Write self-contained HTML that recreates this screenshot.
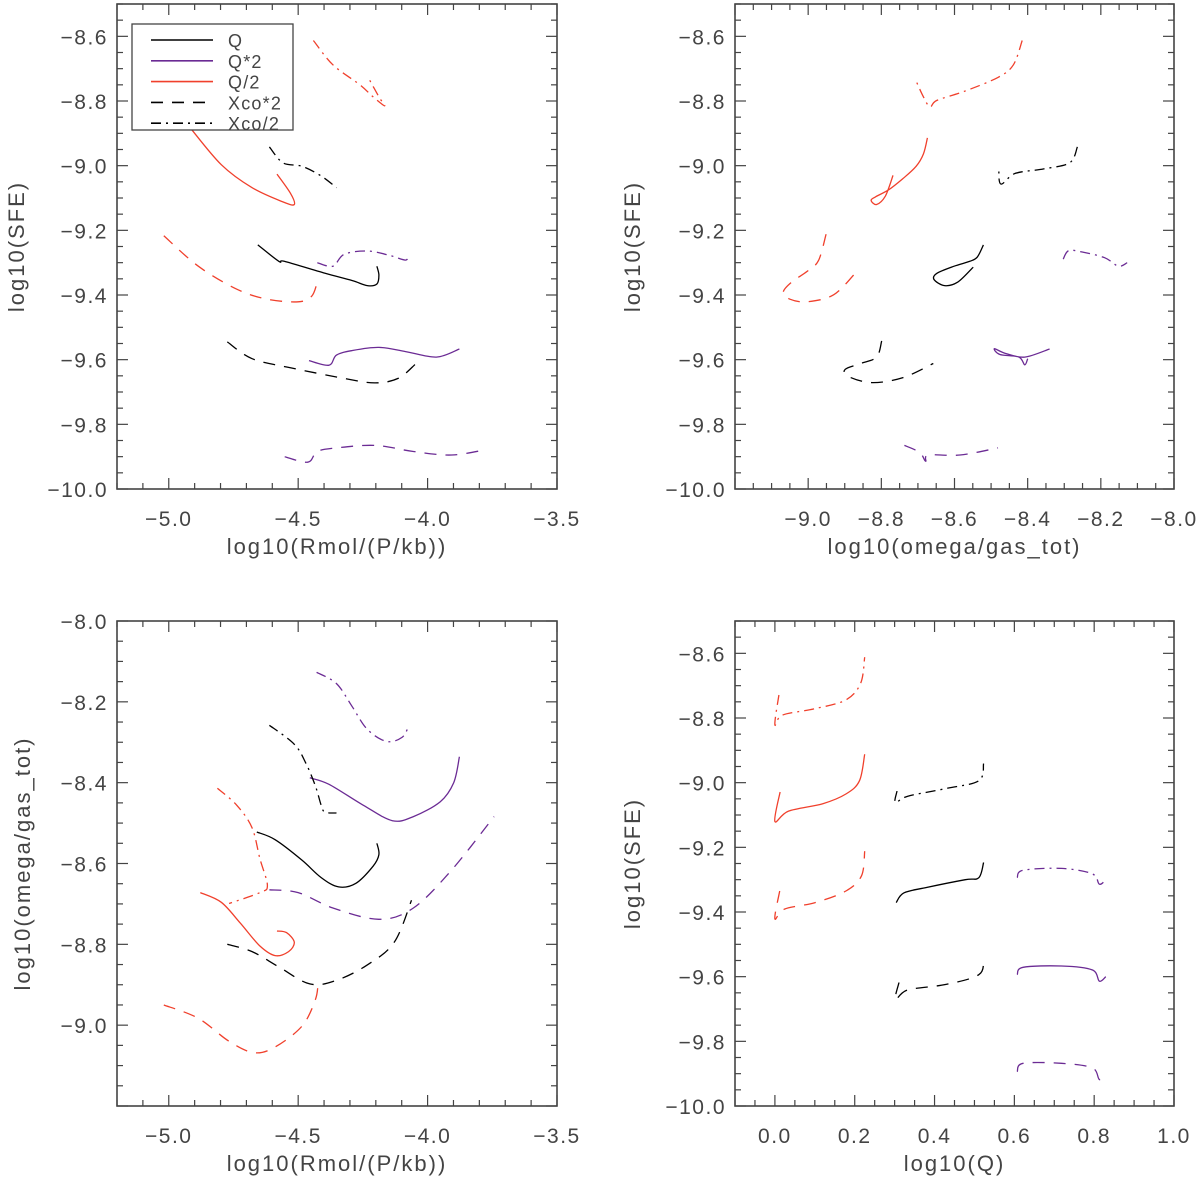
<!DOCTYPE html>
<html><head><meta charset="utf-8"><style>
html,body{margin:0;padding:0;background:#fff;}
svg{display:block;font-family:"Liberation Sans",sans-serif;}
</style></head><body>
<svg id="fig" width="1200" height="1177" viewBox="0 0 1200 1177" xmlns="http://www.w3.org/2000/svg"></svg>
<script>
// ---------- Panel A: log10(SFE) vs log10(Rmol/(P/kb)) ----------
const aQ_x=[-4.656,-4.574,-4.552,-4.396,-4.292,-4.233,-4.196,-4.188,-4.196];
const aQ_y=[-9.245,-9.296,-9.296,-9.333,-9.355,-9.371,-9.366,-9.338,-9.311];
const aQ2_x=[-4.458,-4.381,-4.352,-4.292,-4.188,-4.085,-3.966,-3.877];
const aQ2_y=[-9.603,-9.617,-9.586,-9.572,-9.562,-9.575,-9.592,-9.567];
const aQh_x=[-4.920,-4.797,-4.678,-4.559,-4.515,-4.530,-4.582];
const aQh_y=[-8.880,-8.997,-9.068,-9.112,-9.120,-9.085,-9.026];
const aX2_x=[-4.774,-4.678,-4.530,-4.322,-4.203,-4.114,-4.047];
const aX2_y=[-9.545,-9.597,-9.625,-9.658,-9.672,-9.658,-9.614];
const aQ2X2_x=[-4.552,-4.463,-4.426,-4.352,-4.203,-4.055,-3.907,-3.773];
const aQ2X2_y=[-9.900,-9.917,-9.884,-9.873,-9.865,-9.884,-9.895,-9.878];
const aQhX2_x=[-5.019,-4.886,-4.737,-4.619,-4.500,-4.448,-4.426];
const aQhX2_y=[-9.217,-9.311,-9.382,-9.413,-9.421,-9.404,-9.360];
const aXh_x=[-4.611,-4.559,-4.485,-4.411,-4.352];
const aXh_y=[-8.942,-8.991,-9.002,-9.032,-9.068];
const aQhXh_x=[-4.441,-4.366,-4.263,-4.211,-4.166,-4.188,-4.226];
const aQhXh_y=[-8.613,-8.688,-8.749,-8.787,-8.815,-8.787,-8.732];
const aQ2Xh_x=[-4.426,-4.366,-4.322,-4.233,-4.144,-4.085,-4.073];
const aQ2Xh_y=[-9.300,-9.311,-9.274,-9.264,-9.278,-9.292,-9.274];
// ---------- Panel B: log10(SFE) vs log10(omega/gas_tot) ----------
const bQ_x=[-8.521,-8.538,-8.559,-8.601,-8.648,-8.656,-8.627,-8.591,-8.549];
const bQ_y=[-9.245,-9.283,-9.296,-9.311,-9.333,-9.352,-9.371,-9.360,-9.314];
const bQ2_x=[-8.340,-8.408,-8.460,-8.491,-8.476,-8.424,-8.408,-8.400];
const bQ2_y=[-9.567,-9.592,-9.581,-9.566,-9.584,-9.592,-9.616,-9.597];
const bQh_x=[-8.674,-8.685,-8.705,-8.742,-8.779,-8.815,-8.828,-8.813,-8.789,-8.768];
const bQh_y=[-8.914,-8.964,-9.002,-9.041,-9.074,-9.096,-9.107,-9.120,-9.094,-9.030];
const bX2_x=[-8.799,-8.813,-8.857,-8.899,-8.890,-8.826,-8.742,-8.658];
const bX2_y=[-9.542,-9.592,-9.612,-9.630,-9.652,-9.671,-9.656,-9.612];
const bQ2X2_x=[-8.737,-8.695,-8.679,-8.671,-8.585,-8.481];
const bQ2X2_y=[-9.865,-9.887,-9.914,-9.895,-9.895,-9.873];
const bQhX2_x=[-8.951,-8.972,-9.003,-9.045,-9.068,-9.050,-9.003,-8.930,-8.867];
const bQhX2_y=[-9.212,-9.294,-9.327,-9.360,-9.391,-9.413,-9.421,-9.399,-9.327];
const bXh_x=[-8.264,-8.285,-8.356,-8.434,-8.473,-8.479];
const bXh_y=[-8.942,-8.991,-9.010,-9.024,-9.057,-9.013];
const bQhXh_x=[-8.415,-8.439,-8.481,-8.575,-8.648,-8.667,-8.685,-8.705];
const bQhXh_y=[-8.613,-8.688,-8.727,-8.771,-8.798,-8.818,-8.787,-8.738];
const bQ2Xh_x=[-8.303,-8.288,-8.251,-8.189,-8.152,-8.128];
const bQ2Xh_y=[-9.289,-9.263,-9.267,-9.285,-9.311,-9.300];
// ---------- Panel C: log10(omega/gas_tot) vs log10(Rmol/(P/kb)) ----------
const cQ_x=[-4.660,-4.589,-4.485,-4.411,-4.344,-4.277,-4.211,-4.188,-4.196];
const cQ_y=[-8.522,-8.541,-8.592,-8.635,-8.658,-8.649,-8.607,-8.578,-8.550];
const cQ2_x=[-4.455,-4.381,-4.248,-4.136,-4.055,-3.951,-3.899,-3.877];
const cQ2_y=[-8.388,-8.404,-8.456,-8.494,-8.484,-8.447,-8.400,-8.336];
const cQh_x=[-4.878,-4.797,-4.723,-4.648,-4.589,-4.537,-4.515,-4.545,-4.582];
const cQh_y=[-8.672,-8.696,-8.748,-8.804,-8.828,-8.818,-8.795,-8.771,-8.767];
const cX2_x=[-4.774,-4.678,-4.574,-4.455,-4.352,-4.233,-4.129,-4.062];
const cX2_y=[-8.800,-8.818,-8.856,-8.898,-8.889,-8.851,-8.795,-8.691];
const cQ2X2_x=[-4.611,-4.500,-4.366,-4.188,-4.055,-3.907,-3.743];
const cQ2X2_y=[-8.665,-8.672,-8.710,-8.738,-8.710,-8.616,-8.484];
const cQhX2_x=[-5.019,-4.886,-4.767,-4.671,-4.589,-4.485,-4.433,-4.423];
const cQhX2_y=[-8.950,-8.983,-9.040,-9.068,-9.054,-9.002,-8.936,-8.889];
const cXh_x=[-4.611,-4.515,-4.470,-4.433,-4.411,-4.396,-4.352];
const cXh_y=[-8.258,-8.305,-8.352,-8.409,-8.456,-8.473,-8.475];
const cQhXh_x=[-4.812,-4.737,-4.678,-4.648,-4.619,-4.648,-4.767];
const cQhXh_y=[-8.414,-8.456,-8.512,-8.588,-8.654,-8.672,-8.699];
const cQ2Xh_x=[-4.429,-4.352,-4.292,-4.233,-4.159,-4.099,-4.073];
const cQ2Xh_y=[-8.127,-8.155,-8.211,-8.268,-8.298,-8.288,-8.260];
// ---------- Panel D: log10(SFE) vs log10(Q) ----------
const dQhXh_x=[0.010,0.000,0.019,0.101,0.178,0.215,0.225];
const dQhXh_y=[-8.729,-8.821,-8.791,-8.771,-8.744,-8.692,-8.612];
const dQh_x=[0.013,0.000,0.034,0.120,0.178,0.212,0.225];
const dQh_y=[-9.029,-9.120,-9.088,-9.065,-9.035,-8.994,-8.912];
const dQhX2_x=[0.012,0.000,0.024,0.101,0.178,0.217,0.225];
const dQhX2_y=[-9.335,-9.421,-9.391,-9.371,-9.335,-9.288,-9.212];
const dXh_x=[0.306,0.302,0.333,0.429,0.511,0.523];
const dXh_y=[-9.026,-9.061,-9.042,-9.018,-8.994,-8.941];
const dQ_x=[0.304,0.323,0.381,0.477,0.511,0.523];
const dQ_y=[-9.371,-9.341,-9.324,-9.300,-9.294,-9.247];
const dX2_x=[0.311,0.302,0.333,0.429,0.511,0.523];
const dX2_y=[-9.618,-9.671,-9.641,-9.624,-9.594,-9.547];
const dQ2_x=[0.607,0.622,0.718,0.795,0.813,0.829];
const dQ2_y=[-9.594,-9.571,-9.567,-9.579,-9.614,-9.600];
const dQ2Xh_x=[0.607,0.622,0.718,0.795,0.813,0.829];
const dQ2Xh_y=[-9.294,-9.271,-9.265,-9.282,-9.314,-9.300];
const dQ2X2_x=[0.607,0.622,0.718,0.795,0.813,0.829];
const dQ2X2_y=[-9.894,-9.868,-9.868,-9.882,-9.918,-9.904];
// tick labels
const xTicksA=["-5.0","-4.5","-4.0","-3.5"];
const xTicksB=["-9.0","-8.8","-8.6","-8.4","-8.2","-8.0"];
const xTicksD=["0.0","0.2","0.4","0.6","0.8","1.0"];
const yTicksSFE=["-8.6","-8.8","-9.0","-9.2","-9.4","-9.6","-9.8","-10.0"];
const yTicksOmega=["-8.0","-8.2","-8.4","-8.6","-8.8","-9.0"];
const legendLabels=["Q","Q*2","Q/2","Xco*2","Xco/2"];

const NS="http://www.w3.org/2000/svg";
const svg=document.getElementById('fig');
const COL={k:"#000000",p:"#6b2b94",r:"#f0402c"};
const DASH={s:"",d:"12,9",dd:"10,5,2,5"};
function el(tag,attrs,parent){const e=document.createElementNS(NS,tag);for(const k in attrs)e.setAttribute(k,attrs[k]);(parent||svg).appendChild(e);return e;}
function smooth(P){
  let d='M'+P[0][0].toFixed(1)+','+P[0][1].toFixed(1);
  for(let i=0;i<P.length-1;i++){
    const p0=P[i-1]||P[i],p1=P[i],p2=P[i+1],p3=P[i+2]||P[i+1];
    const c1=[p1[0]+(p2[0]-p0[0])/6,p1[1]+(p2[1]-p0[1])/6];
    const c2=[p2[0]-(p3[0]-p1[0])/6,p2[1]-(p3[1]-p1[1])/6];
    d+=` C${c1[0].toFixed(1)},${c1[1].toFixed(1)} ${c2[0].toFixed(1)},${c2[1].toFixed(1)} ${p2[0].toFixed(1)},${p2[1].toFixed(1)}`;
  }
  return d;
}
const TF={'font-size':21,'letter-spacing':1.5,fill:'#444'};
function panel(id,box,xr,yr,xMajor,xMinor,yMajor,yMinor,xLabels,yLabels,xTitle,yTitle,series){
  const g=el('g',{});
  
  
  const sx=v=>box.l+(v-xr[0])/(xr[1]-xr[0])*(box.r-box.l);
  const sy=v=>box.b-(v-yr[0])/(yr[1]-yr[0])*(box.b-box.t);
  const sg=el('g',{},g);
  
  
  series.forEach(s=>{
    const P=s.x.map((v,i)=>[sx(v),sy(s.y[i])]);
    const p=el('path',{d:smooth(P),fill:'none',stroke:COL[s.c],'stroke-width':1.3,'stroke-dasharray':DASH[s.s]},sg);
    
    
  });
  const fr=el('rect',{x:box.l,y:box.t,width:box.r-box.l,height:box.b-box.t,fill:'none',stroke:'#444','stroke-width':1.6},g);
  
  
  const tk=el('g',{stroke:'#444','stroke-width':1.2},g);
  
  
  const n=Math.round((xr[1]-xr[0])/xMinor);
  for(let i=0;i<=n;i++){const v=xr[0]+i*xMinor;const maj=Math.abs(v/xMajor-Math.round(v/xMajor))<1e-6;const L=maj?11:6;const x=sx(v);
    el('line',{x1:x,y1:box.b,x2:x,y2:box.b-L},tk);el('line',{x1:x,y1:box.t,x2:x,y2:box.t+L},tk);}
  const m=Math.round((yr[1]-yr[0])/yMinor);
  for(let i=0;i<=m;i++){const v=yr[0]+i*yMinor;const maj=Math.abs(v/yMajor-Math.round(v/yMajor))<1e-6;const L=maj?11:6;const y=sy(v);
    el('line',{x1:box.l,y1:y,x2:box.l+L,y2:y},tk);el('line',{x1:box.r,y1:y,x2:box.r-L,y2:y},tk);}
  xLabels.forEach(t=>{const v=parseFloat(t);const e=el('text',Object.assign({x:sx(v),y:box.b+37,'text-anchor':'middle'},TF),g);e.textContent=t.replace('-','\u2212');
    
    });
  yLabels.forEach(t=>{const v=parseFloat(t);const e=el('text',Object.assign({x:box.l-9,y:sy(v)+8,'text-anchor':'end'},TF),g);e.textContent=t.replace('-','\u2212');
    
    });
  const xt=el('text',Object.assign({x:(box.l+box.r)/2,y:box.b+65,'text-anchor':'middle'},TF,{'font-size':22,'letter-spacing':2}),g);xt.textContent=xTitle;
  
  
  const yx=box.ytx;const yc=(box.t+box.b)/2;
  const yt=el('text',Object.assign({x:yx,y:yc,'text-anchor':'middle',transform:`rotate(-90 ${yx} ${yc})`},TF,{'font-size':22,'letter-spacing':2}),g);yt.textContent=yTitle;
  
  
  return g;
}
const S=(n,x,y,c,s)=>({n,x,y,c,s});
panel('panel-sfe-vs-rmol',{l:117,r:557,t:4,b:489,ytx:24},[-5.2,-3.5],[-10,-8.5],0.5,0.1,0.2,0.05,xTicksA,yTicksSFE,'log10(Rmol/(P/kb))','log10(SFE)',[
 S('q',aQ_x,aQ_y,'k','s'),S('q-times-2',aQ2_x,aQ2_y,'p','s'),S('q-half',aQh_x,aQh_y,'r','s'),
 S('xco-times-2',aX2_x,aX2_y,'k','d'),S('q2-xco-times-2',aQ2X2_x,aQ2X2_y,'p','d'),S('qhalf-xco-times-2',aQhX2_x,aQhX2_y,'r','d'),
 S('xco-half',aXh_x,aXh_y,'k','dd'),S('qhalf-xco-half',aQhXh_x,aQhXh_y,'r','dd'),S('q2-xco-half',aQ2Xh_x,aQ2Xh_y,'p','dd')]);
panel('panel-sfe-vs-omega',{l:735,r:1174,t:4,b:489,ytx:640},[-9.2,-8.0],[-10,-8.5],0.2,0.05,0.2,0.05,xTicksB,yTicksSFE,'log10(omega/gas_tot)','log10(SFE)',[
 S('q',bQ_x,bQ_y,'k','s'),S('q-times-2',bQ2_x,bQ2_y,'p','s'),S('q-half',bQh_x,bQh_y,'r','s'),
 S('xco-times-2',bX2_x,bX2_y,'k','d'),S('q2-xco-times-2',bQ2X2_x,bQ2X2_y,'p','d'),S('qhalf-xco-times-2',bQhX2_x,bQhX2_y,'r','d'),
 S('xco-half',bXh_x,bXh_y,'k','dd'),S('qhalf-xco-half',bQhXh_x,bQhXh_y,'r','dd'),S('q2-xco-half',bQ2Xh_x,bQ2Xh_y,'p','dd')]);
panel('panel-omega-vs-rmol',{l:117,r:557,t:621,b:1106,ytx:30},[-5.2,-3.5],[-9.2,-8.0],0.5,0.1,0.2,0.05,xTicksA,yTicksOmega,'log10(Rmol/(P/kb))','log10(omega/gas_tot)',[
 S('q',cQ_x,cQ_y,'k','s'),S('q-times-2',cQ2_x,cQ2_y,'p','s'),S('q-half',cQh_x,cQh_y,'r','s'),
 S('xco-times-2',cX2_x,cX2_y,'k','d'),S('q2-xco-times-2',cQ2X2_x,cQ2X2_y,'p','d'),S('qhalf-xco-times-2',cQhX2_x,cQhX2_y,'r','d'),
 S('xco-half',cXh_x,cXh_y,'k','dd'),S('qhalf-xco-half',cQhXh_x,cQhXh_y,'r','dd'),S('q2-xco-half',cQ2Xh_x,cQ2Xh_y,'p','dd')]);
panel('panel-sfe-vs-q',{l:735,r:1174,t:621,b:1106,ytx:640},[-0.1,1.0],[-10,-8.5],0.2,0.05,0.2,0.05,xTicksD,yTicksSFE,'log10(Q)','log10(SFE)',[
 S('q',dQ_x,dQ_y,'k','s'),S('q-times-2',dQ2_x,dQ2_y,'p','s'),S('q-half',dQh_x,dQh_y,'r','s'),
 S('xco-times-2',dX2_x,dX2_y,'k','d'),S('q2-xco-times-2',dQ2X2_x,dQ2X2_y,'p','d'),S('qhalf-xco-times-2',dQhX2_x,dQhX2_y,'r','d'),
 S('xco-half',dXh_x,dXh_y,'k','dd'),S('qhalf-xco-half',dQhXh_x,dQhXh_y,'r','dd'),S('q2-xco-half',dQ2Xh_x,dQ2Xh_y,'p','dd')]);

// legend
const lg=el('g',{});


el('rect',{x:132,y:24,width:161,height:106,fill:'#fff',stroke:'#444','stroke-width':1.3},lg);
const lc=['k','p','r','k','k'],ls=['s','s','s','d','dd'];
legendLabels.forEach((t,i)=>{const y=40+i*20.8;
  const ln=el('line',{x1:151,y1:y,x2:213,y2:y,stroke:COL[lc[i]],'stroke-width':1.6,'stroke-dasharray':DASH[ls[i]]},lg);
  
  
  const tx=el('text',{x:228,y:y+7,'font-size':18,'letter-spacing':1.2,fill:'#444'},lg);tx.textContent=t;
  
  
});
</script>
</body></html>
